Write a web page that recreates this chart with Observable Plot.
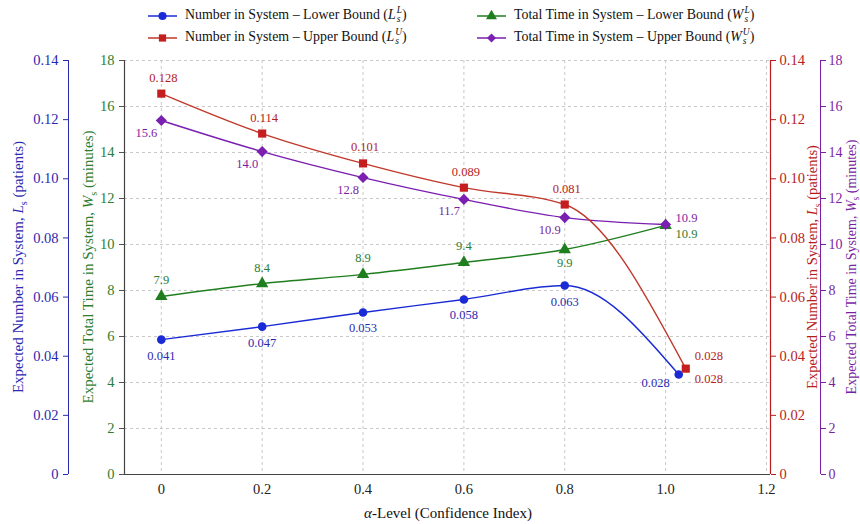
<!DOCTYPE html>
<html>
<head>
<meta charset="utf-8">
<script src="https://cdn.jsdelivr.net/npm/d3@7"></script>
<script src="https://cdn.jsdelivr.net/npm/@observablehq/plot@0.6"></script>
<style>
  html, body { margin: 0; padding: 0; background: #fff; }
  body { font-family: "Liberation Serif", "DejaVu Serif", serif; width: 860px; }
  #legend { position: relative; height: 50px; width: 860px; font-size: 13.9px; color: #111; }
  .item { position: absolute; display: flex; align-items: center; white-space: nowrap; }
  .item svg { margin-right: 8px; }
  .m { font-style: normal; }
  .m i { font-style: italic; }
  .ss { display: inline-flex; flex-direction: column; vertical-align: middle; font-size: 0.68em; line-height: 0.95; font-style: italic; margin-left: 1px; position: relative; top: -1px; }
</style>
</head>
<body>
<div id="legend"></div>
<div id="chart"></div>
<script>
// ---------- data ----------
const alpha        = [0, 0.2, 0.4, 0.6, 0.8, 1.0];
const lsLowerAlpha = [0, 0.2, 0.4, 0.6, 0.8, 1.026];
const lsUpperAlpha = [0, 0.2, 0.4, 0.6, 0.8, 1.04];
const lsLower = [0.0456, 0.0500, 0.0548, 0.0592, 0.0639, 0.0338];
const lsUpper = [0.1288, 0.1153, 0.1052, 0.0970, 0.0913, 0.0358];
const wsLower = [7.74, 8.30, 8.70, 9.22, 9.78, 10.83];
const wsUpper = [15.39, 14.04, 12.91, 11.96, 11.17, 10.87];
const lsLowerLabels = ["0.041", "0.047", "0.053", "0.058", "0.063", "0.028"];
const lsUpperLabels = ["0.128", "0.114", "0.101", "0.089", "0.081", "0.028"];
const wsLowerLabels = ["7.9", "8.4", "8.9", "9.4", "9.9", "10.9"];
const wsUpperLabels = ["15.6", "14.0", "12.8", "11.7", "10.9", "10.9"];
const xTicks  = [0, 0.2, 0.4, 0.6, 0.8, 1.0, 1.2];
const wTicks  = [0, 2, 4, 6, 8, 10, 12, 14, 16, 18];
const lsTicks = [0, 0.02, 0.04, 0.06, 0.08, 0.10, 0.12, 0.14];
const seriesNames = [
  "Number in System \u2013 Lower Bound",
  "Number in System \u2013 Upper Bound",
  "Total Time in System \u2013 Lower Bound",
  "Total Time in System \u2013 Upper Bound"
];

// ---------- styling ----------
const BLUE = "#1a2bd6", RED = "#c41e1e", REDLINE = "#c0392b", GREEN = "#1f7f1f", PURPLE = "#7a1fb0";
const BLUE_T = "#2a2ab0", GREEN_T = "#2e7d32", RED_T = "#b71c1c", PURPLE_T = "#7b1fa2";
const xMin = -0.073, xMax = 1.208;
const wMax = 18, lsMax = 0.14, k = wMax / lsMax; // both axes share the pixel range
const FONT = "Liberation Serif";

const mk = (xs, ys, labels, f = v => v) => xs.map((x, i) => ({x, y: f(ys[i]), label: labels[i]}));
const blue   = mk(lsLowerAlpha, lsLower, lsLowerLabels, v => v * k);
const red    = mk(lsUpperAlpha, lsUpper, lsUpperLabels, v => v * k);
const green  = mk(alpha, wsLower, wsLowerLabels);
const purple = mk(alpha, wsUpper, wsUpperLabels);

const lsFmt = d => { const v = d / k; return Math.abs(v) < 1e-9 ? "0" : v.toFixed(2); };
const wFmt = d => String(Math.round(d));
const xFmt = d => d === 0 ? "0" : d.toFixed(1);

const txt = {fontSize: 12.5, fontFamily: FONT};

const chart = Plot.plot({
  width: 860, height: 474,
  marginLeft: 124, marginRight: 90, marginTop: 10, marginBottom: 50,
  style: {fontFamily: FONT, overflow: "visible", background: "transparent"},
  x: {domain: [xMin, xMax]},
  y: {domain: [0, wMax]},
  marks: [
    Plot.gridX(xTicks, {stroke: "#c8c8c8", strokeOpacity: 1, strokeDasharray: "3,3"}),
    Plot.gridY(wTicks.slice(1), {stroke: "#c8c8c8", strokeOpacity: 1, strokeDasharray: "3,3"}),
    Plot.axisX(xTicks, {tickSize: 0, tickPadding: 9, tickFormat: xFmt, fontSize: 14.5, fill: "#222", label: null}),
    // green (inner left)
    Plot.axisY(wTicks, {anchor: "left", tickSize: 5, tickPadding: 5, tickFormat: wFmt, stroke: "#555", fill: GREEN_T, fontSize: 14.5, label: null}),
    // blue (outer left)
    Plot.axisY(lsTicks.map(v => v * k), {anchor: "left", dx: -56, tickSize: 5, tickPadding: 5, tickFormat: lsFmt, stroke: BLUE_T, fill: BLUE_T, fontSize: 14.5, label: null}),
    // red (inner right)
    Plot.axisY(lsTicks.map(v => v * k), {anchor: "right", tickSize: 5, tickPadding: 4, tickFormat: lsFmt, stroke: RED_T, fill: RED_T, fontSize: 14.5, label: null}),
    // purple (outer right)
    Plot.axisY(wTicks, {anchor: "right", dx: 50, tickSize: 5, tickPadding: 3, tickFormat: wFmt, stroke: PURPLE_T, fill: PURPLE_T, fontSize: 14, label: null}),
    Plot.ruleX([xMin], {stroke: "#444", strokeWidth: 1.2}),
    Plot.ruleY([0], {stroke: "#444", strokeWidth: 1.2}),
    Plot.ruleX([xMin], {dx: -56, stroke: BLUE_T, strokeWidth: 1}),
    Plot.ruleX([xMax], {stroke: RED_T, strokeWidth: 1.2}),
    Plot.ruleX([xMax], {dx: 50, stroke: PURPLE_T, strokeWidth: 1}),
    // series
    Plot.line(green,  {x: "x", y: "y", stroke: GREEN, strokeWidth: 1.4, curve: "monotone-x"}),
    Plot.line(blue,   {x: "x", y: "y", stroke: BLUE, strokeWidth: 1.4, curve: "monotone-x"}),
    Plot.line(purple, {x: "x", y: "y", stroke: PURPLE, strokeWidth: 1.4, curve: "monotone-x"}),
    Plot.line(red,    {x: "x", y: "y", stroke: REDLINE, strokeWidth: 1.4, curve: "monotone-x"}),
    Plot.dot(green,  {x: "x", y: "y", symbol: "triangle", fill: GREEN, r: 4.6}),
    Plot.dot(blue,   {x: "x", y: "y", symbol: "circle", fill: BLUE, r: 4.3}),
    Plot.dot(purple, {x: "x", y: "y", symbol: "diamond2", fill: PURPLE, r: 5}),
    Plot.dot(red,    {x: "x", y: "y", symbol: "square", fill: RED, r: 4.6}),
    // value labels
    Plot.text(blue.slice(0, 5), {x: "x", y: "y", text: "label", dy: 16, fill: BLUE_T, ...txt}),
    Plot.text(blue.slice(5), {x: "x", y: "y", text: "label", dx: -9, dy: 8, textAnchor: "end", fill: BLUE_T, ...txt}),
    Plot.text(red.slice(0, 5), {x: "x", y: "y", text: "label", dx: 2, dy: -16, fill: RED_T, ...txt}),
    Plot.text(red.slice(5), {x: "x", y: "y", text: "label", dx: 9, dy: -13, textAnchor: "start", fill: RED_T, ...txt}),
    Plot.text(red.slice(5), {x: "x", y: "y", text: "label", dx: 9, dy: 10, textAnchor: "start", fill: RED_T, ...txt}),
    Plot.text(green.slice(0, 4), {x: "x", y: "y", text: "label", dy: -16, fill: GREEN_T, ...txt}),
    Plot.text(green.slice(4, 5), {x: "x", y: "y", text: "label", dy: 13, fill: GREEN_T, ...txt}),
    Plot.text(green.slice(5), {x: "x", y: "y", text: "label", dx: 10, dy: 9, textAnchor: "start", fill: GREEN_T, ...txt}),
    Plot.text(purple.slice(0, 5), {x: "x", y: "y", text: "label", dx: -4, dy: 12, textAnchor: "end", fill: PURPLE_T, ...txt}),
    Plot.text(purple.slice(5), {x: "x", y: "y", text: "label", dx: 10, dy: -6, textAnchor: "start", fill: PURPLE_T, ...txt})
  ]
});

// ---------- axis titles with italic symbols and subscripts ----------
const svg = d3.select(chart);
const cy = (10 + 424) / 2;
function yTitle(x, color, pre, sym, post, fs = 15) {
  const t = svg.append("text")
    .attr("transform", `translate(${x},${cy}) rotate(-90)`)
    .attr("text-anchor", "middle").attr("dy", "0.35em")
    .attr("fill", color).attr("font-size", fs).attr("font-family", FONT);
  t.append("tspan").text(pre);
  t.append("tspan").attr("font-style", "italic").text(sym);
  t.append("tspan").attr("font-size", fs * 0.67).attr("dy", 3.5).text("s");
  t.append("tspan").attr("dy", -3.5).text(post);
}
yTitle(18, BLUE_T, "Expected Number in System, ", "L", " (patients)");
yTitle(88, GREEN_T, "Expected Total Time in System, ", "W", " (minutes)");
yTitle(812, RED_T, "Expected Number in System, ", "L", " (patients)", 14.5);
yTitle(851, PURPLE_T, "Expected Total Time in System, ", "W", " (minutes)", 14);
const xt = svg.append("text").attr("x", 448).attr("y", 468)
  .attr("text-anchor", "middle").attr("fill", "#111").attr("font-size", 15).attr("font-family", FONT);
xt.append("tspan").attr("font-style", "italic").text("\u03b1");
xt.append("tspan").text("-Level (Confidence Index)");

document.getElementById("chart").appendChild(chart);

// ---------- legend ----------
const legendItems = [
  {name: seriesNames[0], sym: "L", sup: "L", color: BLUE, line: BLUE, shape: d3.symbolCircle, left: 148, top: 16},
  {name: seriesNames[1], sym: "L", sup: "U", color: RED, line: REDLINE, shape: d3.symbolSquare, left: 148, top: 38},
  {name: seriesNames[2], sym: "W", sup: "L", color: GREEN, line: GREEN, shape: d3.symbolTriangle, left: 477, top: 16},
  {name: seriesNames[3], sym: "W", sup: "U", color: PURPLE, line: PURPLE, shape: d3.symbolDiamond2, left: 477, top: 38}
];
const legend = d3.select("#legend");
for (const it of legendItems) {
  const div = legend.append("div").attr("class", "item")
    .style("left", it.left + "px").style("top", (it.top - 10) + "px").style("height", "20px");
  const s = div.append("svg").attr("width", 29).attr("height", 12);
  s.append("line").attr("x1", 0).attr("x2", 29).attr("y1", 6).attr("y2", 6).attr("stroke", it.line).attr("stroke-width", 1.5);
  s.append("path").attr("d", d3.symbol(it.shape, 52)()).attr("transform", "translate(14.5,6)").attr("fill", it.color);
  const span = div.append("span");
  span.append("span").text(it.name + " (");
  const m = span.append("span").attr("class", "m");
  m.append("i").text(it.sym);
  const ss = m.append("span").attr("class", "ss");
  ss.append("span").text(it.sup);
  ss.append("span").text("s");
  span.append("span").text(")");
}
</script>
</body>
</html>
